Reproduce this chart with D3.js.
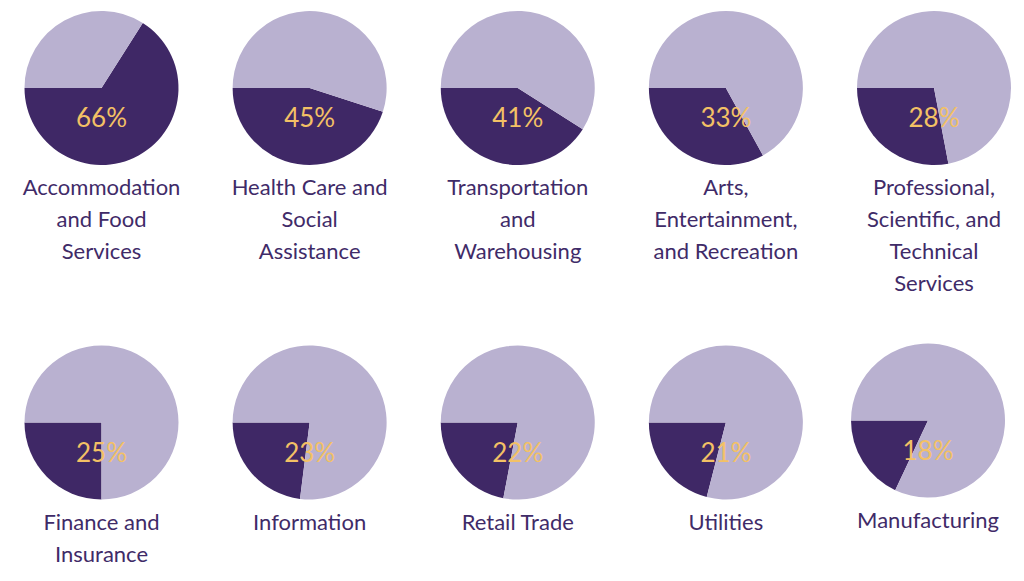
<!DOCTYPE html>
<html>
<head>
<meta charset="utf-8">
<script src="https://cdn.jsdelivr.net/npm/d3@7"></script>
<style>
  html, body { margin: 0; padding: 0; background: #fff; }
  svg { display: block; }
</style>
</head>
<body>
<div id="chart"></div>
<script>
// Share of workers by industry (dark slice = percent)
const industries = [
  "Accommodation and Food Services",
  "Health Care and Social Assistance",
  "Transportation and Warehousing",
  "Arts, Entertainment, and Recreation",
  "Professional, Scientific, and Technical Services",
  "Finance and Insurance",
  "Information",
  "Retail Trade",
  "Utilities",
  "Manufacturing"
];
const percents = [66, 45, 41, 33, 28, 25, 23, 22, 21, 18];
// label lines as they wrap in the picture
const labelLines = [
  ["Accommodation", "and Food", "Services"],
  ["Health Care and", "Social", "Assistance"],
  ["Transportation", "and", "Warehousing"],
  ["Arts,", "Entertainment,", "and Recreation"],
  ["Professional,", "Scientific, and", "Technical", "Services"],
  ["Finance and", "Insurance"],
  ["Information"],
  ["Retail Trade"],
  ["Utilities"],
  ["Manufacturing"]
];

const width = 1024, height = 581;
const radius = 77;
const darkColor = "#3f2866";
const lightColor = "#b9b1d0";
const pctColor = "#f3c165";
const textColor = "#3f2b68";

const svg = d3.select("#chart")
  .append("svg")
  .attr("width", width)
  .attr("height", height)
  .attr("viewBox", `0 0 ${width} ${height}`);

const x = d3.scalePoint().domain(d3.range(5)).range([101.5, 934]);
const y = d3.scalePoint().domain([0, 1]).range([88, 422.5]);

const arc = d3.arc().innerRadius(0).outerRadius(radius);

const cells = svg.selectAll("g.cell")
  .data(industries.map((name, i) => ({ name, pct: percents[i], lines: labelLines[i], i })))
  .join("g")
  .attr("class", "cell")
  .attr("transform", d => {
    // the last pie sits a touch left and up in the original layout
    const dx = d.i === 9 ? -6 : 0, dy = d.i === 9 ? -2 : 0;
    return `translate(${x(d.i % 5) + dx},${y(Math.floor(d.i / 5)) + dy})`;
  });

cells.each(function(d) {
  const g = d3.select(this);
  const p = d.pct / 100;
  // dark slice runs counter-clockwise from 9 o'clock
  const start = 1.5 * Math.PI - p * 2 * Math.PI;
  const pie = d3.pie().sort(null).value(v => v)
    .startAngle(start).endAngle(start + 2 * Math.PI);
  g.selectAll("path")
    .data(pie([p, 1 - p]))
    .join("path")
    .attr("d", arc)
    .attr("fill", (s, k) => k === 0 ? darkColor : lightColor);

  g.append("text")
    .attr("x", 0)
    .attr("y", 39)
    .attr("text-anchor", "middle")
    .attr("fill", pctColor)
    .style("font-family", "Lato, 'Open Sans', sans-serif")
    .style("font-size", "26px")
    .text(d.pct + "%");

  g.append("g")
    .selectAll("text")
    .data(d.lines)
    .join("text")
    .attr("x", 0)
    .attr("y", (t, k) => 107 + k * 32)
    .attr("text-anchor", "middle")
    .attr("fill", textColor)
    .style("font-family", "Lato, 'Open Sans', sans-serif")
    .style("font-size", "22px")
    .text(t => t);
});
</script>
</body>
</html>
